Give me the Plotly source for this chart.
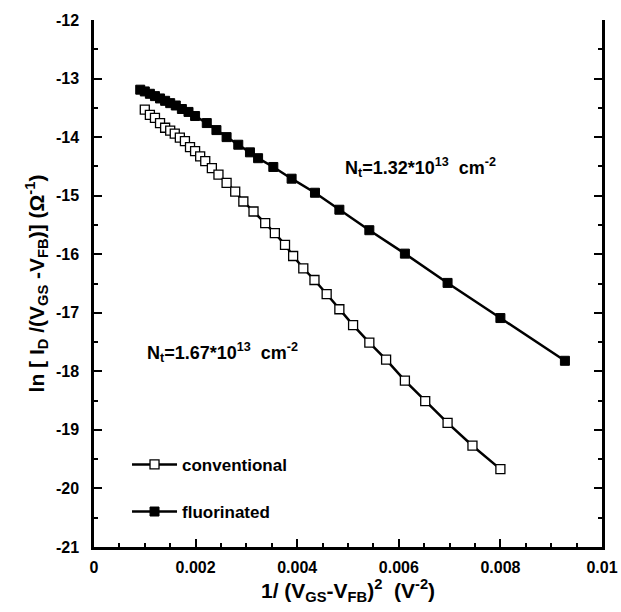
import plotly.graph_objects as go

# ---- data ----
conv_x = [0.00100, 0.00110, 0.00120, 0.00130, 0.00140, 0.00150, 0.00159, 0.00169, 0.00179,
          0.00189, 0.00199, 0.00209, 0.00219, 0.00232, 0.00245, 0.00261, 0.00278, 0.00294,
          0.00314, 0.00337, 0.00356, 0.00376, 0.00392, 0.00412, 0.00434, 0.00458, 0.00483,
          0.00510, 0.00542, 0.00575, 0.00612, 0.00652, 0.00696, 0.00745, 0.00800]
conv_y = [-13.53, -13.62, -13.67, -13.76, -13.84, -13.89, -13.94, -14.01, -14.07,
          -14.17, -14.24, -14.33, -14.41, -14.53, -14.64, -14.78, -14.93, -15.10,
          -15.27, -15.47, -15.64, -15.84, -16.03, -16.24, -16.44, -16.68, -16.94,
          -17.21, -17.51, -17.80, -18.16, -18.51, -18.88, -19.27, -19.67]

fluo_x = [0.00091, 0.00100, 0.00110, 0.00120, 0.00130, 0.00140, 0.00150, 0.00161, 0.00173,
          0.00186, 0.00199, 0.00222, 0.00241, 0.00261, 0.00284, 0.00307, 0.00323, 0.00353,
          0.00389, 0.00435, 0.00483, 0.00542, 0.00612, 0.00696, 0.00800, 0.00927]
fluo_y = [-13.19, -13.22, -13.26, -13.30, -13.34, -13.38, -13.42, -13.46, -13.52,
          -13.57, -13.64, -13.76, -13.88, -14.00, -14.13, -14.26, -14.36, -14.51,
          -14.71, -14.95, -15.24, -15.59, -15.99, -16.49, -17.09, -17.82]

x_tickvals = [0, 0.002, 0.004, 0.006, 0.008, 0.01]
x_ticktext = ["0", "0.002", "0.004", "0.006", "0.008", "0.01"]
y_tickvals = [-12, -13, -14, -15, -16, -17, -18, -19, -20, -21]
y_ticktext = ["-12", "-13", "-14", "-15", "-16", "-17", "-18", "-19", "-20", "-21"]

FONT = "Liberation Sans Narrow, Liberation Sans, Arial, sans-serif"
FONT2 = "Liberation Sans, Arial, sans-serif"

fig = go.Figure()
fig.add_trace(go.Scatter(
    x=conv_x, y=conv_y, mode="lines+markers", name="<b>conventional</b>",
    legendgroup="a",
    line=dict(color="black", width=2.5),
    marker=dict(symbol="square", size=9, color="white", line=dict(color="black", width=1.3)),
))
fig.add_trace(go.Scatter(
    x=fluo_x, y=fluo_y, mode="lines+markers", name="<b>fluorinated</b>",
    legendgroup="b",
    line=dict(color="black", width=2.5),
    marker=dict(symbol="square", size=9, color="black", line=dict(color="black", width=1)),
))

fig.add_annotation(x=0.0049, y=-14.52, xref="x", yref="y", xanchor="left", yanchor="middle",
                   text="<b>N<sub>t</sub>=1.32*10<sup>13</sup>  cm<sup>-2</sup></b>",
                   showarrow=False, font=dict(family=FONT2, size=18, color="black"))
fig.add_annotation(x=0.00100, y=-17.67, xref="x", yref="y", xanchor="left", yanchor="middle",
                   text="<b>N<sub>t</sub>=1.67*10<sup>13</sup>  cm<sup>-2</sup></b>",
                   showarrow=False, font=dict(family=FONT2, size=18, color="black"))

fig.update_layout(
    width=621, height=612,
    margin=dict(l=94, r=19, t=20, b=65, autoexpand=False),
    paper_bgcolor="white", plot_bgcolor="white",
    showlegend=True,
    legend=dict(x=0.065, y=0.19, xanchor="left", yanchor="top",
                traceorder="grouped", tracegroupgap=22, itemwidth=45,
                bgcolor="rgba(0,0,0,0)",
                font=dict(family=FONT2, size=17, color="black")),
    xaxis=dict(
        range=[0, 0.01], tickvals=x_tickvals, ticktext=x_ticktext,
        showgrid=False, zeroline=False, automargin=False,
        showline=True, linecolor="black", linewidth=2.5, mirror=False,
        ticks="inside", ticklen=8, tickwidth=2, tickcolor="black",
        minor=dict(dtick=0.0005, tick0=0, ticks="inside", ticklen=4, tickwidth=2, tickcolor="black"),
        tickfont=dict(family=FONT, size=16, color="black", weight="bold"),
        ticklabelstandoff=4,
        title=dict(text="<b>1/ (V<sub>GS</sub>-V<sub>FB</sub>)<sup>2</sup>  (V<sup>-2</sup>)</b>",
                   font=dict(family=FONT2, size=21, color="black"), standoff=4),
    ),
    yaxis=dict(
        range=[-21, -12], tickvals=y_tickvals, ticktext=y_ticktext,
        showgrid=False, zeroline=False, automargin=False,
        showline=True, linecolor="black", linewidth=2.5, mirror="ticks",
        ticks="inside", ticklen=8, tickwidth=2, tickcolor="black",
        minor=dict(dtick=0.5, tick0=-12, ticks="inside", ticklen=4, tickwidth=2, tickcolor="black"),
        tickfont=dict(family=FONT, size=16, color="black", weight="bold"),
        ticklabelstandoff=9,
        title=dict(text="<b>ln [ I<sub>D</sub> /(V<sub>GS</sub> -V<sub>FB</sub>)] (Ω<sup>-1</sup>)</b>",
                   font=dict(family=FONT2, size=21, color="black"), standoff=6),
    ),
)

fig.write_html("out.html", config={"displayModeBar": False},
               post_script="document.body.style.margin='0px';document.body.style.overflow='hidden';")
